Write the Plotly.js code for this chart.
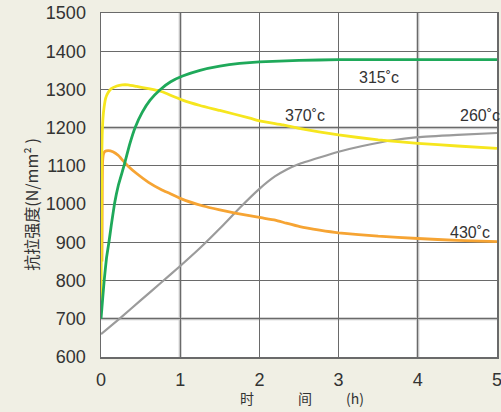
<!DOCTYPE html>
<html>
<head>
<meta charset="utf-8">
<script src="https://cdn.plot.ly/plotly-3.0.1.min.js"></script>
<style>html,body{margin:0;padding:0;background:#f0efe4;}#chart{width:501px;height:412px;}</style>
</head>
<body>
<div id="chart"></div>
<script>
// Series: time (h) and tensile strength (N/mm^2)
const t315 = [0, 0.02, 0.04, 0.07, 0.1, 0.13, 0.17, 0.22, 0.29, 0.36, 0.43, 0.52, 0.62, 0.75, 0.88, 1.03, 1.25, 1.5, 1.75, 2.0, 2.5, 3.0, 3.5, 4.0, 4.5, 5.0];
const v315 = [700, 750, 800, 860, 900, 945, 1000, 1050, 1100, 1155, 1200, 1240, 1272, 1300, 1320, 1335, 1350, 1361, 1368, 1372, 1376, 1378, 1378, 1378, 1378, 1378];

const t370 = [0, 0.003, 0.006, 0.01, 0.015, 0.025, 0.04, 0.06, 0.09, 0.13, 0.2, 0.27, 0.34, 0.45, 0.6, 0.77, 0.9, 1.03, 1.25, 1.5, 1.88, 2.0, 2.3, 2.5, 3.0, 3.5, 4.0, 4.5, 5.0];
const v370 = [740, 850, 1000, 1120, 1180, 1225, 1255, 1278, 1292, 1302, 1309, 1312, 1312, 1308, 1302, 1294, 1283, 1272, 1258, 1245, 1225, 1218, 1207, 1198, 1181, 1168, 1159, 1152, 1146];

const t260 = [0, 0.25, 0.5, 0.75, 1.0, 1.25, 1.5, 1.75, 2.0, 2.2, 2.34, 2.5, 2.76, 3.0, 3.3, 3.68, 4.0, 4.5, 5.0];
const v260 = [660, 703, 748, 793, 838, 885, 936, 990, 1040, 1073, 1090, 1105, 1122, 1137, 1152, 1167, 1175, 1181, 1186];

const t430 = [0.012, 0.014, 0.016, 0.02, 0.03, 0.05, 0.09, 0.15, 0.22, 0.28, 0.34, 0.45, 0.6, 0.77, 0.87, 1.0, 1.29, 1.5, 1.71, 2.0, 2.2, 2.34, 2.51, 2.76, 3.0, 3.5, 4.0, 4.5, 5.0];
const v430 = [850, 950, 1050, 1110, 1130, 1138, 1140, 1137, 1127, 1113, 1100, 1080, 1057, 1037, 1028, 1015, 995, 985, 976, 965, 958, 950, 941, 932, 925, 916, 910, 905, 902];

const seriesLabels = ['315˚c', '370˚c', '260˚c', '430˚c'];
const labelX = [3.51, 2.58, 4.78, 4.66];
const labelY = [1332, 1233, 1233, 927];

const xTicks = [0, 1, 2, 3, 4, 5];
const yTicks = [600, 700, 800, 900, 1000, 1100, 1200, 1300, 1400, 1500];
const softGridX = [1, 4];
const softGridY = [700, 1200];

const yTitle = '抗拉强度(N/mm² )';
const xTitleParts = ['时', '间', '(h)'];

const traces = [
  {x: t260, y: v260, mode: 'lines', line: {color: '#9b9b9b', width: 2.2, shape: 'spline', smoothing: 0.4}, hoverinfo: 'skip'},
  {x: t430, y: v430, mode: 'lines', line: {color: '#f6a433', width: 2.8, shape: 'spline', smoothing: 0.4}, hoverinfo: 'skip'},
  {x: t370, y: v370, mode: 'lines', line: {color: '#f6e61e', width: 2.8, shape: 'spline', smoothing: 0.4}, hoverinfo: 'skip'},
  {x: t315, y: v315, mode: 'lines', line: {color: '#1fa95a', width: 2.8, shape: 'spline', smoothing: 0.3}, hoverinfo: 'skip'}
];

const shapes = [];
softGridX.forEach(v => shapes.push({type: 'line', xref: 'x', yref: 'paper', x0: v, x1: v, y0: 0, y1: 1, line: {color: '#c4c4c4', width: 3}, layer: 'below'}));
softGridY.forEach(v => shapes.push({type: 'line', xref: 'paper', yref: 'y', x0: 0, x1: 1, y0: v, y1: v, line: {color: '#c4c4c4', width: 3}, layer: 'below'}));

const annotations = seriesLabels.map((s, i) => ({
  x: labelX[i], y: labelY[i], xref: 'x', yref: 'y', text: s, showarrow: false,
  font: {family: 'Liberation Sans, Arial, sans-serif', size: 16, color: '#333333'}
}));
annotations.push({
  xref: 'paper', yref: 'paper', x: -0.212, y: 0.443, text: yTitle, textangle: -90, showarrow: false,
  font: {family: 'Noto Sans CJK SC, sans-serif', size: 16, color: '#333333'}
});
const xTitlePos = [247, 305, 355];
xTitleParts.forEach((s, i) => annotations.push({
  xref: 'paper', yref: 'paper', x: (xTitlePos[i] - 101) / 396, y: -0.12, yanchor: 'middle', text: s, showarrow: false,
  font: {family: 'Noto Sans CJK SC, sans-serif', size: 14, color: '#333333'}
}));

const axisFont = {family: 'Liberation Sans, Arial, sans-serif', size: 18, color: '#333333'};
const layout = {
  width: 501, height: 412,
  margin: {l: 101, r: 4, t: 13, b: 55, pad: 0},
  paper_bgcolor: '#f0efe4',
  plot_bgcolor: '#ffffff',
  showlegend: false,
  xaxis: {
    range: [0, 5], tickvals: xTicks, ticktext: xTicks.map(String),
    showgrid: true, gridcolor: '#6a6a6a', gridwidth: 1.2,
    zeroline: false, showline: true, linecolor: '#6a6a6a', linewidth: 1.5, mirror: true,
    ticks: '', tickfont: axisFont, ticklabelstandoff: 6, ticklabeloverflow: 'allow', fixedrange: true
  },
  yaxis: {
    range: [600, 1500], tickvals: yTicks, ticktext: yTicks.map(String),
    showgrid: true, gridcolor: '#6a6a6a', gridwidth: 1.2,
    zeroline: false, showline: true, linecolor: '#6a6a6a', linewidth: 1.5, mirror: true,
    ticks: '', tickfont: axisFont, ticklabelstandoff: 10, ticklabeloverflow: 'allow', fixedrange: true
  },
  shapes: shapes,
  annotations: annotations
};

Plotly.newPlot('chart', traces, layout, {staticPlot: true, displayModeBar: false});
</script>
</body>
</html>
